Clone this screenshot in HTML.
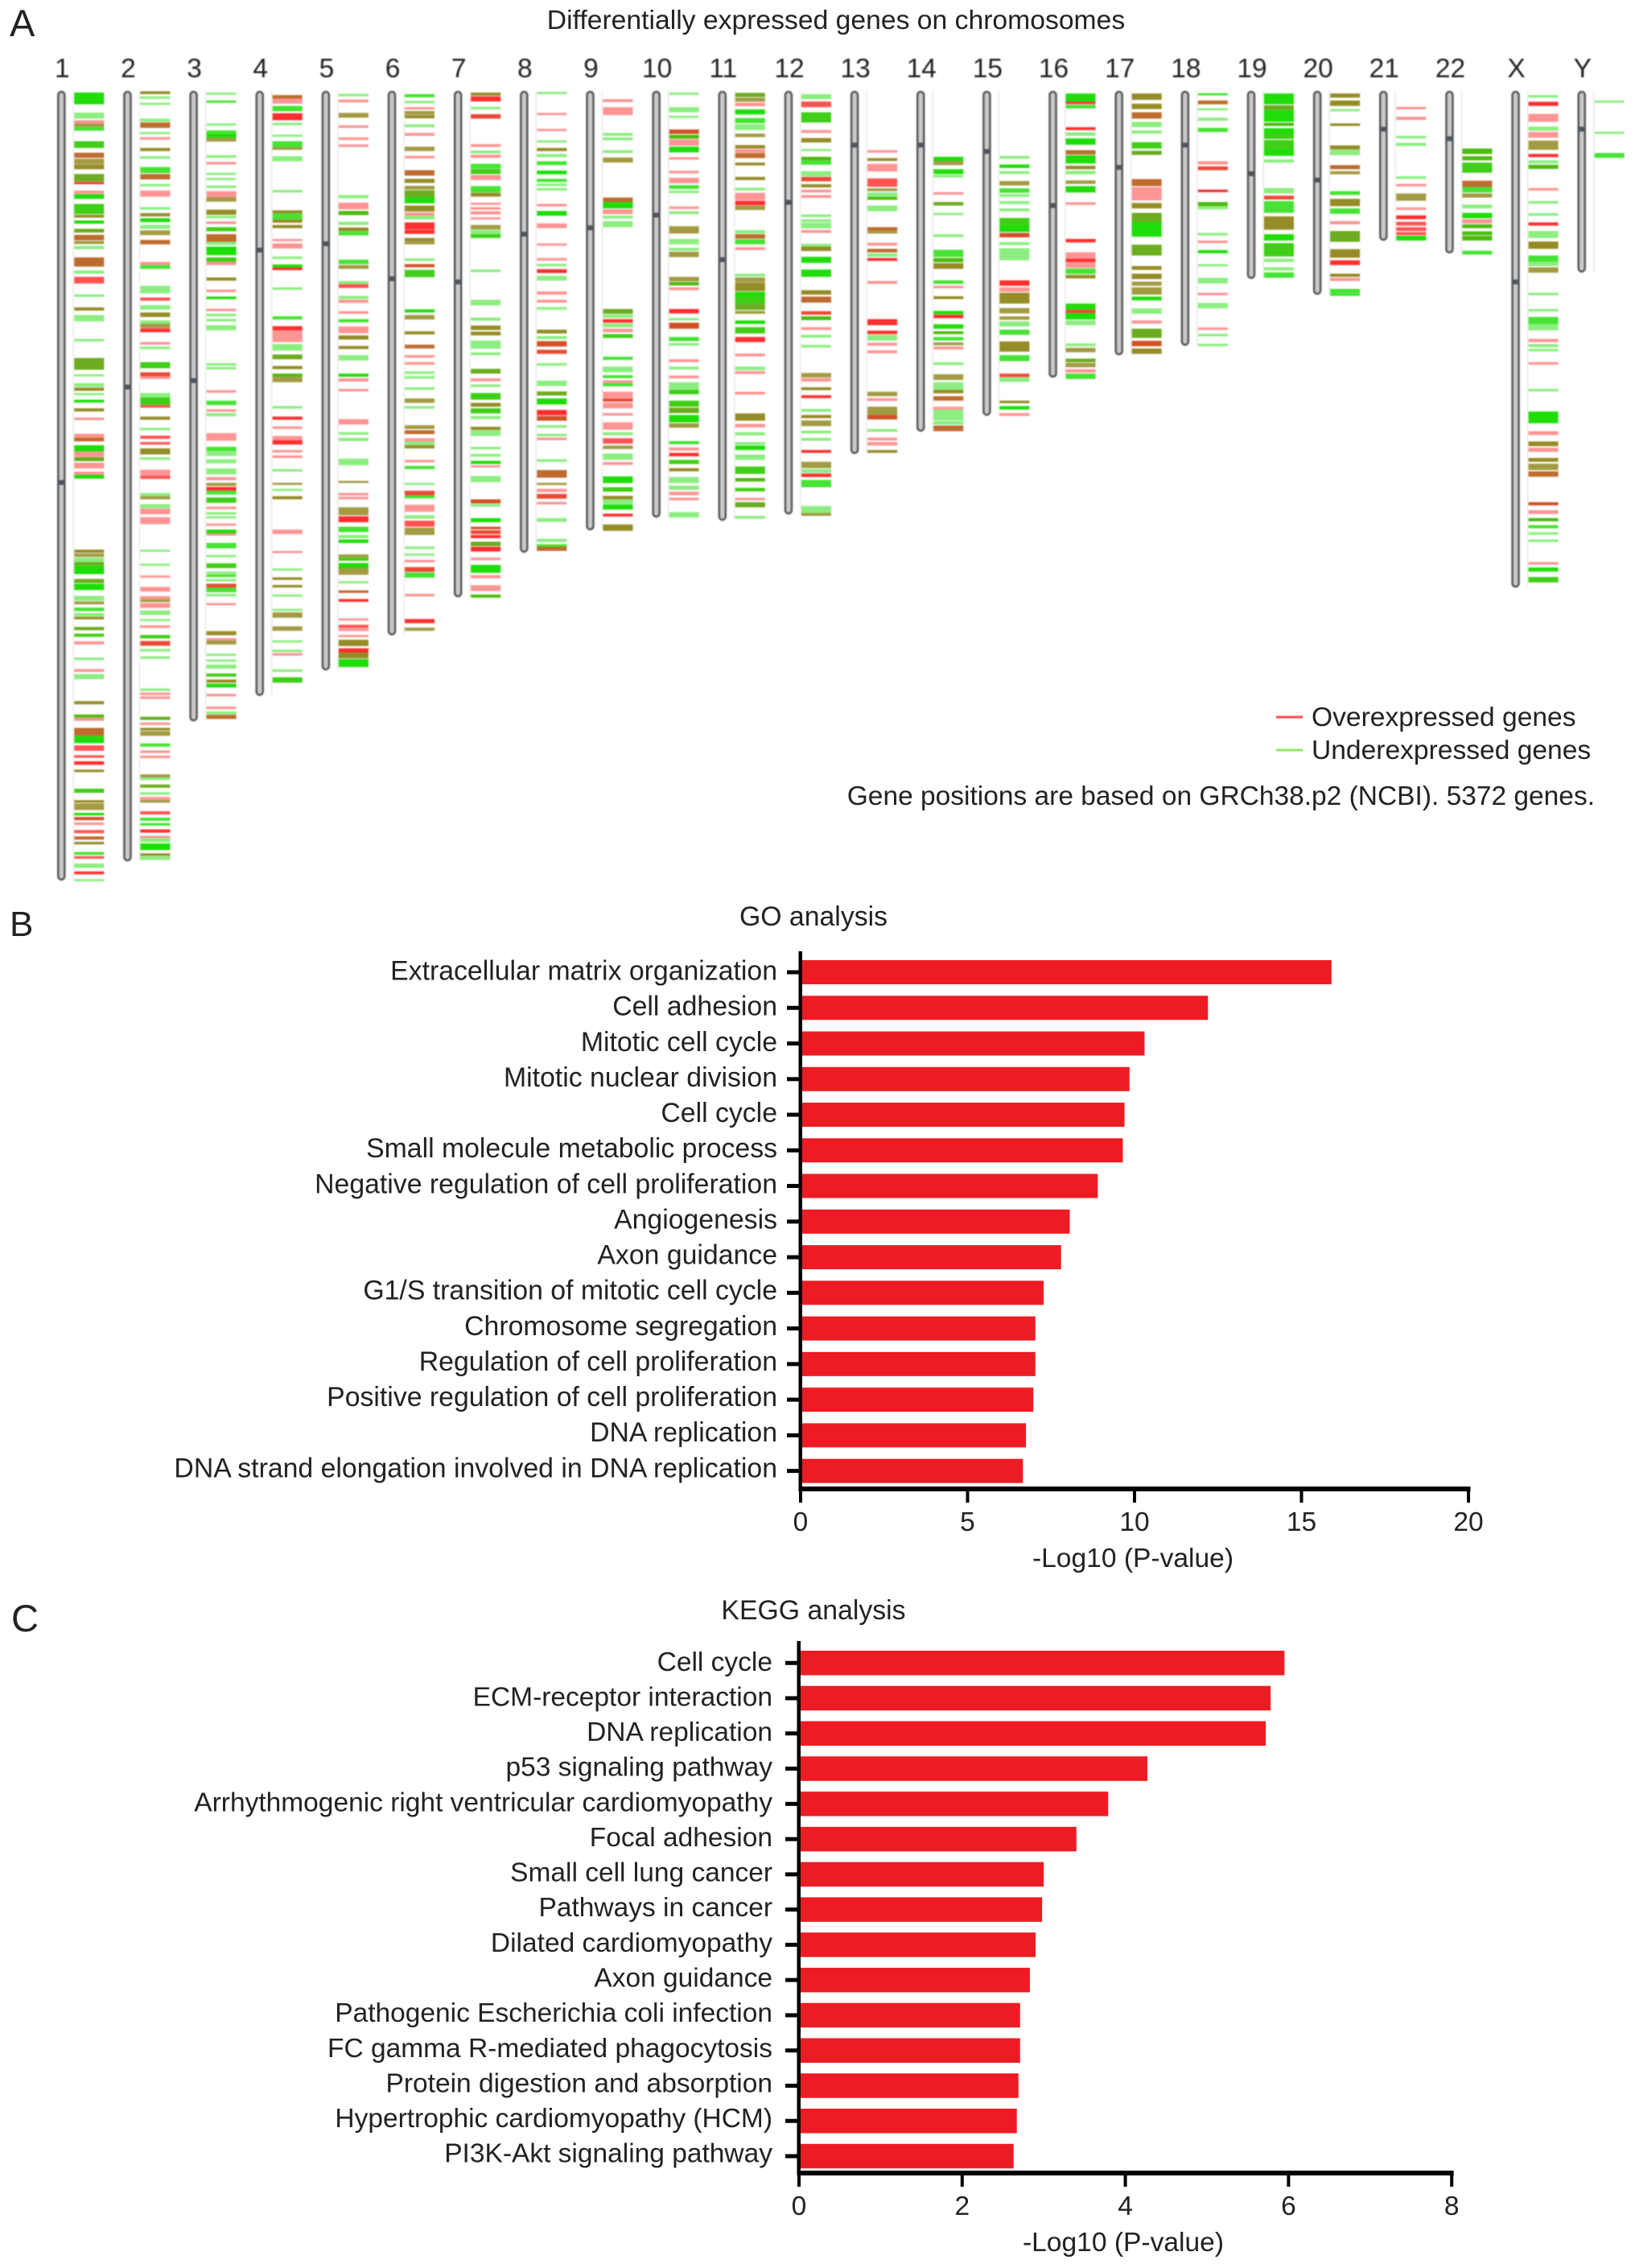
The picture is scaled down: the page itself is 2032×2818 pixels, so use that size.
<!DOCTYPE html>
<html lang="en">
<head>
<meta charset="utf-8">
<title>Differentially expressed genes, GO and KEGG analysis</title>
<style>
html,body{margin:0;padding:0;background:#fff;}
body{width:2032px;height:2818px;overflow:hidden;}
svg{display:block;font-family:"Liberation Sans",Arial,sans-serif;fill:#222;}
#ideogram{filter:blur(0.7px);}
</style>
</head>
<body>
<svg id="figure" xmlns="http://www.w3.org/2000/svg" width="2032" height="2818" viewBox="0 0 2032 2818">
  <rect x="0" y="0" width="2032" height="2818" fill="#ffffff"/>
  <text x="12" y="45" font-size="47">A</text>
  <text x="12" y="1163" font-size="44">B</text>
  <text x="14" y="2027" font-size="47">C</text>
  <text x="1039" y="36" font-size="33.7" text-anchor="middle">Differentially expressed genes on chromosomes</text>
  <g id="ideogram"></g>
  <line x1="1586" x2="1619" y1="891" y2="891" stroke="#ff4d4d" stroke-width="3"/>
  <text x="1630" y="902" font-size="33.6">Overexpressed genes</text>
  <line x1="1586" x2="1619" y1="932" y2="932" stroke="#8fe86a" stroke-width="3"/>
  <text x="1630" y="943" font-size="33.6">Underexpressed genes</text>
  <text x="1982" y="1000" font-size="33.5" text-anchor="end">Gene positions are based on GRCh38.p2 (NCBI). 5372 genes.</text>
  <text x="1011" y="1150" font-size="33.8" text-anchor="middle">GO analysis</text>
  <g id="go-chart"></g>
  <text x="1408" y="1947" font-size="33.6" text-anchor="middle">-Log10 (P-value)</text>
  <text x="1011" y="2012" font-size="33.8" text-anchor="middle">KEGG analysis</text>
  <g id="kegg-chart"></g>
  <text x="1396" y="2797" font-size="33.6" text-anchor="middle">-Log10 (P-value)</text>
</svg>
<script>
// Panels B and C
const goTerms = ["Extracellular matrix organization","Cell adhesion","Mitotic cell cycle","Mitotic nuclear division","Cell cycle","Small molecule metabolic process","Negative regulation of cell proliferation","Angiogenesis","Axon guidance","G1/S transition of mitotic cell cycle","Chromosome segregation","Regulation of cell proliferation","Positive regulation of cell proliferation","DNA replication","DNA strand elongation involved in DNA replication"];
const goValues = [15.9,12.2,10.3,9.85,9.7,9.65,8.9,8.06,7.8,7.28,7.03,7.03,6.97,6.75,6.66];
const goTicks = [0,5,10,15,20];
const keggTerms = ["Cell cycle","ECM-receptor interaction","DNA replication","p53 signaling pathway","Arrhythmogenic right ventricular cardiomyopathy","Focal adhesion","Small cell lung cancer","Pathways in cancer","Dilated cardiomyopathy","Axon guidance","Pathogenic Escherichia coli infection","FC gamma R-mediated phagocytosis","Protein digestion and absorption","Hypertrophic cardiomyopathy (HCM)","PI3K-Akt signaling pathway"];
const keggValues = [5.95,5.78,5.72,4.27,3.79,3.40,3.0,2.98,2.90,2.83,2.71,2.71,2.69,2.67,2.63];
const keggTicks = [0,2,4,6,8];

// Panel A: chromosome names, lengths and centromeres in Mb
const chrNames = ["1","2","3","4","5","6","7","8","9","10","11","12","13","14","15","16","17","18","19","20","21","22","X","Y"];
const chrLengths = [248,242,198,190,182,171,159,145,138,134,135,133,114,107,102,90,83,80,59,64,47,51,156,57];
const chrCentromeres = [123,93,91,50,48,59,60,45,43,39,53,35,17,17,19,36,24,17,26,28,12,15,60,12];
// Gene clusters per chromosome: [position Mb, extent Mb, over-expressed weight, under-expressed weight]
const chr1Genes = [[.5,3.7,0,3],[6.8,1.9,0,1],[9.2,1,1,0],[10.2,1.1,1,1],[11.3,1.2,0,2],[15.8,2.1,1,3],[19.4,1.6,3,2],[21.3,1.7,1,1],[23.1,1.5,2,2],[26.1,2.4,2,3],[28.6,.7,3,0],[31.3,1,1,0],[32.4,1.5,0,3],[35.5,3.2,1,3],[38.9,.9,2,2],[40.7,1,0,3],[43.3,1.2,2,3],[45.2,1.7,3,2],[47.1,1,1,1],[48.7,1,0,1],[52.3,2.9,3,2],[56.4,1,0,1],[58.4,2.1,2,0],[63.9,.8,0,1],[68,1,2,2],[70.4,2,0,1],[77.9,.8,0,1],[83.9,3.7,2,3],[89,.7,0,1],[91.8,1.2,0,1],[93.2,1,2,2],[94.9,.7,0,1],[97,.9,0,3],[99.7,1,2,2],[102.6,.8,1,0],[107.7,1.2,1,0],[108.9,1.2,3,2],[111.3,2,0,3],[113.3,1.6,1,0],[115,1.3,2,3],[116.8,1.8,1,0],[119.6,1,1,0],[120.6,1.2,0,3],[144.1,1,2,2],[145.3,1.1,1,1],[146.6,1.4,0,1],[148,1.1,2,3],[149.1,2.7,0,3],[153.3,1.3,2,3],[154.8,2,0,3],[158.6,1.6,0,1],[160.4,.9,1,1],[162.3,1.1,0,2],[164,1.1,0,1],[165.2,.8,2,2],[168.4,1,2,3],[170.5,1,1,3],[172.9,1,1,0],[178,.8,0,1],[181.6,.9,1,0],[183.2,1.6,0,1],[191.7,1,2,2],[195.9,1,1,2],[196.9,1,1,0],[200.1,2.5,3,2],[202.6,2.3,0,3],[205.6,1.7,2,0],[208.7,.8,2,0],[210.6,1.1,3,0],[213.2,.8,2,2],[219.2,1.3,1,3],[222.8,.8,2,2],[223.8,2.1,1,1],[226.8,.8,0,3],[228.1,1,2,1],[229.8,.8,1,0],[232.2,1,2,0],[234.2,1,3,2],[235.9,.8,2,2],[239.1,.9,0,2],[240.4,.8,2,0],[242.7,1.4,0,1],[245.2,.9,3,0],[247.6,.7,0,1]];
const chr2Genes = [[.1,.9,2,2],[1.7,.8,0,1],[3.7,.7,0,1],[8.7,1,0,1],[9.9,1.7,3,2],[12.9,.7,0,1],[14.5,.8,1,0],[17.9,1,2,2],[20.5,.8,0,1],[23.9,1.9,0,2],[26.1,1.7,3,2],[29.2,.8,0,1],[31.3,1.9,1,0],[36.5,.8,0,1],[38.4,1,2,2],[40,1.2,0,3],[42.1,1.2,0,1],[43.8,1.5,1,1],[46.8,1.4,3,2],[53.7,1,1,0],[54.7,1.2,0,2],[61.2,2.4,0,1],[64.9,1,2,0],[67.3,1.4,0,1],[69.6,1.4,2,2],[72.1,1,0,1],[73.1,1.4,1,1],[74.6,1.2,3,0],[78.9,.8,1,0],[80.3,.8,0,1],[85.2,1.9,1,3],[88.4,1.3,3,1],[89.7,.8,1,0],[94.9,1.4,0,1],[96.3,2.4,1,3],[98.7,.8,2,0],[102.3,1,2,2],[105.8,.8,0,1],[108.3,1,2,0],[110.3,.8,2,0],[112.3,1.9,2,2],[115.1,.8,0,1],[119,1.9,1,0],[120.9,1,2,0],[126.3,1,0,1],[127.3,1,1,1],[129.8,1.3,0,1],[131.2,1.8,1,0],[133.9,2.2,1,0],[144.1,.7,0,1],[148.5,.7,0,1],[152.2,.7,1,0],[155.8,1.5,1,0],[158.7,1,1,0],[159.7,.9,1,1],[160.9,1.5,1,0],[163.2,1.4,0,1],[165.9,.7,0,1],[167.9,.8,1,0],[170.9,1.1,1,3],[172.8,1.5,3,1],[175.3,.8,0,1],[177.6,.8,0,1],[187.7,.8,0,1],[189,.8,1,0],[190.2,.8,1,0],[196.6,1,2,3],[198.4,.8,1,0],[200.1,.8,2,2],[201.1,1.5,1,1],[205,1,0,2],[207.2,.8,1,0],[208.8,.8,1,0],[214.7,1,1,1],[215.7,.8,0,1],[217.9,1,2,3],[220.3,.8,0,1],[221.8,1,1,0],[222.8,.8,1,1],[226.3,1,2,0],[228.3,1,0,2],[230,.8,0,2],[232,1,3,0],[234,.7,1,0],[234.7,1.3,0,1],[236.4,2.1,0,3],[239.5,.8,2,2],[240.4,1.2,0,1]];
const chr3Genes = [[.5,.7,0,1],[3,.7,0,2],[10.2,.7,0,1],[12.4,1.2,0,2],[13.5,1.2,0,3],[14.7,1.2,1,1],[20.2,.8,0,1],[22.3,.8,1,0],[25.7,.7,0,1],[27.3,.7,0,1],[29.7,.8,0,1],[31.5,1.9,1,0],[33.4,1.4,1,1],[37.3,1.6,2,2],[39.2,.8,0,1],[41,.8,1,0],[42.8,1.3,1,3],[45,2.4,3,2],[47.4,1,0,1],[48.9,2.7,0,3],[52.3,1.4,1,3],[53.7,1,1,0],[58.6,1,2,2],[62.4,.8,1,0],[64.6,.8,0,3],[68.4,.8,1,0],[70,.8,0,1],[71.6,.8,0,1],[73.6,1.6,0,1],[85.5,.8,0,1],[86.7,.8,0,1],[94,.8,1,0],[97.3,1.4,0,2],[100,.8,1,0],[101.2,1,0,1],[107.5,2.4,1,0],[111.8,1.4,0,2],[113.3,1.4,0,1],[115.7,1.3,0,1],[118.6,1.9,0,1],[121.3,1,1,0],[123.1,1,1,1],[124.4,1.2,3,0],[125.6,1.2,0,2],[127.7,1.7,1,3],[130.6,.8,1,0],[132.3,.8,0,1],[133.6,.7,0,1],[135.9,.7,1,0],[137.8,1.3,0,3],[139,.7,1,0],[142,1.7,0,2],[145.8,.7,0,1],[148.4,1.5,1,3],[151,.8,0,1],[151.9,.8,0,2],[153.3,.8,0,1],[154.8,1.2,3,1],[156,1.5,0,2],[158,.8,0,1],[160.9,.7,1,0],[169.7,1.3,2,2],[171.9,.7,1,0],[172.6,1.3,1,1],[176.8,.7,0,1],[178.6,.7,0,1],[180.2,1.3,0,1],[183,1,1,3],[184.9,1,2,2],[186.2,1.2,0,3],[189.4,.8,1,0],[193.4,.8,1,0],[194.9,1,0,1],[196,1.3,3,2]];
const chr4Genes = [[1.3,1.2,3,2],[2.4,1.6,1,0],[4.7,1.7,0,2],[7,2.2,3,0],[10,.8,0,1],[13.7,.7,0,1],[15.8,1.9,0,2],[17.7,.8,1,1],[20.5,1.6,0,1],[31.1,.8,0,1],[37.5,1,2,2],[38.5,1.9,0,2],[40.4,1,2,2],[42.1,1,2,2],[46.5,.7,1,0],[47.9,1.6,1,0],[52,.8,0,1],[54.5,1,0,3],[55.5,.8,3,0],[61.7,.8,0,1],[70.8,1,0,2],[73.9,1.4,3,0],[75.2,3.7,1,0],[79.5,2.1,0,1],[82.8,1.5,2,3],[86.4,1,2,2],[88.8,1,1,2],[89.8,1.7,1,1],[99,.8,0,1],[102.3,1,3,0],[105.4,.8,1,0],[108.4,1.3,1,0],[109.7,1.4,3,0],[112.8,.8,1,0],[114.5,.8,1,0],[118.8,.8,0,1],[123.1,.6,1,1],[125,.7,0,1],[127.3,1,2,2],[137.8,1.4,1,0],[144.5,.7,1,0],[150,.7,0,1],[152.8,.8,2,2],[155.2,.8,2,2],[158.2,.7,0,1],[162.7,.7,0,1],[163.8,1.7,1,1],[168.2,1.4,1,1],[172.6,.7,0,1],[175.5,.8,0,1],[176.6,.8,1,0],[181.7,.8,0,1],[184.2,1.7,1,3]];
const chr5Genes = [[.9,.8,0,1],[2.7,.9,1,0],[6.9,1.5,1,1],[10.8,.8,1,0],[14.6,.8,1,0],[16.8,.8,1,0],[32.7,1,0,1],[35.1,2.1,1,0],[37.7,1.3,1,2],[41.1,1,0,1],[42.9,1.2,2,2],[44.2,1.2,0,2],[53,1.4,0,2],[54.7,1.2,1,1],[59.7,1,0,1],[60.7,1.2,2,0],[64.4,1,0,1],[65.6,1,1,0],[69.2,.8,1,0],[71.7,1,0,2],[74,2.1,1,0],[76.8,1.3,2,2],[80.1,1,2,2],[83,1.7,0,1],[88.8,1,0,3],[90.3,1,1,0],[93.6,.8,1,0],[103.1,1.7,1,0],[107.2,.8,0,1],[109,1,0,1],[115.5,2.1,0,1],[122.5,.6,1,1],[126.3,.8,1,0],[127.5,.8,1,0],[130.8,2.5,1,1],[133.6,1.9,3,0],[136.9,1.7,0,2],[139.5,1,0,1],[140.9,1.1,0,3],[145.6,1,1,1],[146.6,1,1,3],[148.3,1.7,0,3],[149.9,2.1,1,1],[154,.7,0,1],[156.9,.8,3,2],[159.6,.9,3,0],[165.7,.7,1,0],[167.7,1,2,0],[168.8,.9,1,0],[170.9,.7,1,0],[172.4,2,2,2],[175.1,2.5,3,0],[176.4,1.9,3,3],[178.5,2.5,0,3]];
const chr6Genes = [[1,1,0,2],[3.1,.8,0,1],[5.1,.7,1,0],[6.3,1.2,1,1],[7.6,1,2,2],[10.5,.9,0,1],[13.2,.9,1,0],[17.5,1.4,1,1],[20.4,.8,1,0],[24.9,1.7,3,2],[27.6,1.3,2,2],[29.8,1.2,1,1],[31.2,2.2,2,3],[33.4,1.9,0,3],[36,1.9,2,2],[38.2,1,1,0],[39.2,1.2,0,1],[41.3,2.2,3,0],[43.6,1.3,3,0],[46.2,1,2,2],[47.2,1,1,1],[52.6,.8,0,1],[54.4,1,2,1],[56.2,2.3,1,3],[68.6,1,0,3],[70.4,1.4,1,1],[75.5,1,2,2],[79.7,1.2,3,2],[83,.8,1,0],[85.2,.8,1,0],[88.1,.8,0,1],[89.6,.8,0,1],[93.1,.8,0,1],[96.6,1.4,1,1],[99,.8,0,1],[105,1.2,1,1],[106.6,1.2,3,2],[109.1,1,1,0],[110.1,1.2,0,1],[111.3,1,2,2],[115.9,.8,1,0],[117.8,1,0,2],[123.1,.5,0,1],[125.6,1.5,3,1],[127.1,.9,0,2],[130,2.2,1,0],[133.3,1.1,0,1],[135,1.9,2,0],[137.2,2.3,1,1],[143.1,.8,0,1],[145.3,.7,0,1],[147.3,.8,1,0],[149.6,1.5,3,1],[151.3,1.6,0,2],[158,.8,1,0],[165.9,1.3,3,0],[168.6,1,1,1]];
const chr7Genes = [[.5,1,2,2],[1.7,1.6,3,0],[5,.8,0,1],[7.3,1.4,3,1],[16.7,.9,1,0],[18.7,.9,0,1],[20,1,1,0],[22.9,1.5,0,2],[24.5,1.6,1,3],[26.4,1.6,1,0],[29.9,2,0,2],[32,1.2,2,2],[35.1,.7,1,0],[36.5,.8,1,0],[37.8,1,1,0],[39.7,.7,1,0],[42.1,1.4,1,1],[43.6,1.5,0,1],[45,1.2,1,3],[56.1,.8,0,1],[65.6,1.8,0,1],[71.2,1,0,1],[73.7,1.4,2,2],[75.6,1.2,2,2],[78.4,2.6,0,1],[82.1,.9,0,1],[87.3,1.5,2,3],[90.3,.9,1,0],[92.2,.8,0,1],[94.9,2.1,1,3],[98,1.2,2,2],[99.7,1.6,1,3],[102.1,1,0,1],[105.5,1,2,2],[106.6,1.8,0,1],[111.8,.8,0,1],[114,.9,0,1],[116.2,1,0,3],[117.6,.6,1,0],[121,1.9,0,1],[128.3,1.3,2,1],[129.8,.8,0,1],[134.2,1.3,0,3],[136.9,.8,2,1],[138,1.2,3,1],[139.5,1,3,0],[141.6,1.4,2,3],[143.2,1.5,3,0],[146.6,.8,1,0],[148.9,2.5,0,3],[152.1,1,1,0],[155.3,1.8,1,0],[158.2,1,1,2]];
const chr8Genes = [[.3,.7,0,1],[6.9,.7,1,0],[11.9,.7,1,0],[15.5,.7,0,1],[17.9,1,2,2],[19.8,1,0,1],[22.1,1.2,0,2],[25,1.2,0,3],[27.6,1,0,2],[29.1,.8,0,1],[30.5,.8,0,1],[35.5,.8,1,0],[37.7,1.5,0,3],[41.6,1.5,1,0],[47.9,.7,1,0],[52.5,.8,1,0],[54.3,.8,0,1],[56,1.2,3,0],[58.1,1.5,0,1],[63,1,1,0],[65.6,.9,1,0],[67.9,.8,0,1],[75,1.2,2,2],[77,1,0,1],[78.6,1.7,2,1],[81.3,1.3,3,1],[85.5,.8,0,1],[91,1.7,0,1],[94.4,1.3,2,3],[96.6,1.9,0,3],[100.2,1.7,3,0],[102.1,1.5,2,1],[105,.8,0,1],[107.7,.8,0,1],[108.9,.8,1,0],[115.7,.8,0,1],[119.1,2.4,3,2],[123.1,.7,1,1],[125,1,1,0],[126.6,1.5,3,1],[129.1,.8,1,0],[134.2,1.2,0,1],[140.7,1,0,1],[142.4,1,0,2],[143.2,1.3,3,2]];
const chr9Genes = [[2.6,.9,1,0],[5.1,2.5,1,0],[13.2,.9,0,1],[14.6,.9,0,1],[18.6,.9,0,1],[20.9,1.6,1,1],[33.5,1.4,3,2],[34.9,2,0,3],[37.2,1.5,1,0],[39.2,.9,0,1],[40.9,1.9,0,1],[68.5,1.5,2,3],[70.2,1.1,0,1],[71.7,1.1,3,0],[73,1.3,0,1],[74.7,1.1,1,0],[76.4,1.2,1,3],[83.5,1,0,2],[86.6,1.8,0,1],[89.3,.9,0,2],[90.9,.9,1,0],[91.8,1,0,2],[94.5,2.3,1,0],[96.7,.9,3,1],[97.9,1.8,1,0],[101.2,.8,1,0],[104.1,2.3,1,0],[107.2,1,0,1],[109.1,1.7,2,0],[111.4,1.1,1,1],[113.9,2,0,1],[116.6,.9,1,0],[121.1,2.1,0,3],[124.5,1.4,1,3],[127.2,1.1,2,2],[128.3,1.5,0,1],[129.9,1.6,0,3],[132.8,.9,3,0],[136.2,2,2,2]];
const chr10Genes = [[.5,.7,0,1],[5.1,1.6,0,1],[7.8,.7,0,1],[12.1,1.4,2,1],[13.8,1.2,1,2],[15.2,2,1,0],[17.5,1.8,0,3],[20.8,.8,1,0],[25.1,.8,1,0],[27.3,1.7,1,0],[29.6,1.2,0,2],[31.3,.8,0,1],[36.3,.8,1,0],[37.8,.9,0,1],[42.5,2.3,1,1],[46.5,1.7,0,1],[49.3,.9,0,1],[50.5,1.7,1,1],[58.4,1.4,1,1],[60,1.1,1,2],[61.7,.9,1,0],[68.5,1.4,3,0],[71.3,.8,0,1],[72.8,1.9,2,1],[77.3,1.3,0,2],[79.2,.8,0,1],[84.3,.9,1,0],[86.6,.9,0,1],[89.4,.9,1,0],[91.5,2.4,0,1],[93.9,1.4,1,3],[97.3,1.9,1,3],[99.5,1.7,2,3],[101.8,2.3,0,3],[104.4,1.4,1,1],[110,1,0,2],[112,1,1,0],[113.7,1.1,3,0],[115.9,1.3,1,3],[118.5,1,2,2],[121.3,1.9,0,1],[124,1.3,0,1],[125.9,1.1,1,0],[127.8,.8,1,0],[132.3,1.7,0,1]];
const chr11Genes = [[.6,1.3,2,3],[2.1,1.3,1,1],[3.7,1.1,1,0],[5.8,1.6,0,3],[8.5,1.6,0,2],[10.4,1.9,0,1],[13.4,1.1,1,1],[17,1.1,2,2],[18.3,1.1,1,0],[19.5,1.6,3,2],[22.5,.9,2,2],[27,1,2,2],[30.4,.9,0,1],[32,2.3,1,0],[34.5,1.4,3,0],[36,1.4,1,1],[43.7,1.1,0,1],[45,1.4,3,2],[46.6,1.6,0,2],[49.1,.9,1,0],[57.4,.9,0,1],[58.6,1.5,1,1],[60.2,2.7,2,2],[63.1,1.5,0,3],[64.6,2.3,1,3],[66.9,1.9,2,3],[69.1,.9,1,1],[72.1,1.1,0,3],[74.2,2,1,3],[77.3,1.6,3,0],[82.5,.9,1,0],[86.6,1.1,0,1],[88,.9,1,0],[94.5,.9,1,0],[101.3,2.3,2,2],[104.6,1.1,1,0],[107.2,1,0,1],[110.3,.9,0,1],[111.4,1.4,0,3],[114.2,1.7,0,1],[118,2.3,1,3],[121.6,1.1,1,2],[124.7,1.1,1,3],[127.8,.8,1,0],[129.2,1.6,2,3],[133.5,.9,0,1]];
const chr12Genes = [[1,1.6,0,1],[3.3,1.8,2,0],[6.7,3.2,1,3],[12.3,.9,1,0],[14.8,1.4,2,2],[18.2,.7,0,1],[20.7,1.1,1,2],[21.8,1.4,0,2],[25.2,1.6,0,1],[27,1.4,3,1],[29.3,1,2,2],[31,.9,1,0],[32.7,.9,1,0],[38.8,.8,0,1],[40.3,.9,0,1],[41.4,1.8,0,1],[43.7,.9,1,0],[48,1.1,0,1],[48.9,1.4,2,2],[52.1,1.9,0,3],[56.1,2.3,0,3],[62.6,1.4,2,2],[64.6,1.9,3,2],[69.2,1.1,3,1],[70.8,1.2,1,2],[74.2,.9,1,0],[76.6,.9,0,1],[79.8,.8,0,1],[88.6,1.4,1,1],[90.2,1.1,1,0],[93.1,.9,2,2],[95.6,.9,3,0],[99.9,.9,0,1],[101.8,1,2,2],[103.5,1.8,1,1],[106.7,.9,0,1],[109,.9,0,1],[112.8,.9,3,0],[116.5,2,1,1],[118.8,1.2,0,1],[120.2,1.1,3,0],[122.2,2.3,0,2],[130.4,2.3,0,1],[132.6,.9,1,1]];
const chr13Genes = [[18.6,.8,1,0],[21.1,.9,2,2],[22.9,2.4,1,0],[27.5,2.6,2,0],[30.6,.9,1,1],[31.9,1.4,0,1],[33.3,.9,1,2],[36,1.8,0,1],[42.8,1.1,3,2],[43.9,.9,1,1],[47.7,.9,1,0],[49.6,1.1,3,2],[51,1.1,0,1],[52.5,.9,3,0],[59.7,.9,1,0],[71.7,1.9,3,0],[75.3,1.1,3,0],[76.6,1.8,0,1],[79.1,.9,1,0],[81.5,.9,1,0],[94.5,1.4,1,1],[96.5,.9,1,0],[99.2,2.6,1,1],[101.8,1.4,2,1],[106.2,.9,0,1],[108.9,.9,1,0],[110.3,1.1,1,0],[112.8,.9,2,2]];
const chr14Genes = [[20.7,1.4,0,3],[22,1.3,1,1],[24.6,1.5,0,3],[26.3,.9,0,1],[31.8,.8,1,0],[34.9,1.1,2,3],[38.3,.7,0,1],[45,.9,0,1],[49.9,2.3,0,2],[52.5,1.3,1,2],[54.1,1.8,2,2],[59.5,1.1,0,2],[61.2,.8,1,0],[64.5,.9,2,2],[69.1,1.1,0,3],[70.3,1.1,3,0],[73.3,1.4,0,3],[75.5,.9,1,2],[77.3,1.1,0,2],[79,.9,1,1],[80.3,.9,1,0],[85.2,.9,0,1],[89,1.8,1,1],[91.5,2.4,0,1],[93.9,1.1,2,2],[95.9,1.4,3,2],[99.2,.9,1,0],[100.1,3.4,0,1],[103.7,1.1,0,1],[105.1,1.8,3,2]];
const chr15Genes = [[20.4,.9,0,1],[23.1,1.1,0,3],[25.2,.9,0,1],[28.3,1.4,1,1],[30.6,1.4,0,2],[32.4,.9,0,1],[34.6,.9,0,1],[36.9,.9,0,1],[39.9,2.1,1,3],[42,2.3,0,3],[44.6,1.4,2,1],[47.5,.9,0,1],[49.4,3.8,0,1],[59.5,1.7,3,0],[61.7,1.4,1,0],[63.4,3.4,3,3],[68.2,1.7,1,1],[70.8,1.1,1,1],[72.4,1.6,0,1],[75,1.6,0,2],[78.7,3.2,3,3],[83,1.9,0,2],[88.8,1.1,3,1],[90,1.4,0,1],[97.3,.8,2,2],[99,1.1,0,3],[101.2,.9,1,0]];
const chr16Genes = [[.8,2.8,0,3],[3.3,.9,3,1],[4.4,1.1,0,2],[11.4,.9,3,0],[13,1.1,0,1],[14.9,2,0,3],[18.6,1.4,3,2],[20.2,2.6,0,3],[23.5,1.1,2,2],[25.1,1.1,0,1],[28.1,1.1,1,1],[29.9,2,0,3],[35,.8,1,0],[46.5,1.1,3,0],[50.7,2,1,0],[52.7,1.1,3,0],[53.9,1.7,1,0],[55.8,1.7,0,2],[57.8,1.1,2,2],[66.8,1.9,0,3],[68.7,1.1,3,1],[69.8,2,0,3],[72.1,1.5,0,1],[79.3,.9,0,1],[80.7,1.4,1,1],[84.1,1.1,2,3],[85.4,1.4,1,1],[87.4,1.1,1,0],[88.8,1.7,0,2]];
const chr17Genes = [[.8,2,2,2],[4,1.7,2,2],[6.7,2,3,2],[9.7,1.7,0,1],[12.4,1,0,1],[16.1,2,1,3],[18.8,1.3,2,3],[27.7,2.2,3,2],[30.2,4.2,1,0],[35.2,1.7,2,2],[38.3,2.9,2,3],[41.1,4.7,0,3],[48.3,3.4,2,3],[55,1.2,2,2],[57.4,1.7,2,2],[59.9,1.3,1,1],[61.7,2.3,1,1],[64.6,1.2,0,3],[68.3,1.7,0,1],[72.1,1,1,0],[74.7,2.9,2,3],[78.5,1.7,2,1],[80.9,1.7,2,2]];
const chr18Genes = [[.7,.7,0,2],[3,1.2,3,2],[5.4,.7,0,1],[8.4,1,0,1],[11.6,1.3,0,2],[22.1,1,1,0],[23.7,1.2,3,1],[31,.8,3,0],[34.9,1.3,1,2],[36.2,1,0,1],[44.6,.8,0,1],[47,.8,1,0],[50,1,0,3],[54.4,.7,0,1],[58.7,1.8,0,1],[63.4,.8,1,0],[66.6,1.7,0,1],[74.3,.8,1,0],[76.3,.8,0,1],[79.4,.8,0,1]];
const chr19Genes = [[.8,3.4,0,3],[4.5,1.5,2,3],[6,3.7,0,3],[10,1,1,2],[11.7,1.7,0,3],[13.4,1.7,1,3],[15.4,2.7,1,3],[18.1,2.3,0,3],[21.5,1,0,1],[30.5,1.7,0,1],[32.9,1.2,3,1],[34.6,3.7,0,2],[39.4,4.2,2,2],[45,2,0,3],[47.8,4.2,1,3],[52.7,1,0,1],[55.4,1,0,1],[57,1.7,0,2]];
const chr20Genes = [[.8,1.3,2,2],[3,1.7,2,2],[5.7,.7,0,1],[10.2,.8,2,2],[17.1,1.3,2,2],[18.5,1.7,0,1],[23.3,1.3,3,2],[25.2,1,1,1],[31.5,1.2,0,2],[33.9,2.3,2,2],[36.9,1.7,0,2],[40.9,1,1,0],[44,3.4,2,3],[49.7,2.7,2,2],[53.2,1.5,3,0],[57.4,1,2,2],[58.7,1,1,0],[62.2,1.2,0,2],[63.4,1,0,2]];
const chr21Genes = [[5,.8,1,0],[8.1,1,1,0],[14.1,.8,0,1],[16.3,1,0,1],[26.8,.8,0,1],[29.2,.8,1,0],[32.2,2.3,1,1],[36.6,.8,1,0],[39.1,1.2,3,0],[41.1,1.2,2,0],[42.8,1.2,2,0],[44.3,1,2,0],[45.5,1.5,0,3]];
const chr22Genes = [[18.1,1.7,1,2],[20.5,1.3,1,2],[22.5,3.2,1,3],[28.2,2,3,2],[30.2,1.7,0,2],[32.2,1.3,1,1],[35.7,1.2,0,1],[38.3,1.7,0,3],[40.3,1.3,1,0],[41.9,1.2,1,2],[44.1,1.2,1,2],[45.5,1.5,1,2],[50.2,1.2,0,2]];
const chrXGenes = [[1.3,.8,0,1],[3.4,1.3,3,0],[7.2,2.5,1,0],[11.2,1.3,0,1],[12.9,1.8,1,0],[15.6,2.9,1,1],[19.8,1,3,0],[21.8,1,0,1],[23.2,1.3,1,2],[30.5,.8,1,0],[34.6,.8,0,1],[38.4,.8,0,1],[41.3,1,3,0],[44,2.2,0,1],[47.3,2.3,2,2],[51.7,2,0,2],[53.7,1.3,0,1],[55.4,1.7,1,1],[63.4,.8,0,1],[68.5,.8,0,1],[71,2.2,0,2],[73.2,2,0,1],[77.9,1,1,0],[79.5,1,0,1],[81,.8,0,1],[85.2,.8,1,0],[93.6,.8,0,1],[100.7,3.7,0,3],[106.9,1.2,1,0],[110.1,1.5,2,2],[112.1,1.3,1,0],[115.3,1.2,2,2],[117.1,2,1,1],[119.5,1.7,3,2],[129.2,1,2,1],[131.7,1.2,1,0],[134.2,1,1,2],[136.4,1,0,2],[138.6,.8,0,1],[140.9,.8,0,1],[148,.8,1,0],[149.7,1.3,0,3],[152.7,1.7,1,3]];
const chrYGenes = [[3,.7,0,1],[12.8,.7,0,1],[19.5,1.5,0,2]];
const chrGenes = [chr1Genes,chr2Genes,chr3Genes,chr4Genes,chr5Genes,chr6Genes,chr7Genes,chr8Genes,chr9Genes,chr10Genes,chr11Genes,chr12Genes,chr13Genes,chr14Genes,chr15Genes,chr16Genes,chr17Genes,chr18Genes,chr19Genes,chr20Genes,chr21Genes,chr22Genes,chrXGenes,chrYGenes];

const NS = "http://www.w3.org/2000/svg";
function make(tag, attrs, parent, text) {
  const el = document.createElementNS(NS, tag);
  Object.keys(attrs).forEach(function (k) { el.setAttribute(k, attrs[k]); });
  if (text !== undefined) el.textContent = text;
  parent.appendChild(el);
  return el;
}

// Ideogram axis functions
const PX_PER_MB = 3.955;
const IDEO_TOP = 113;
function chrX(i) { return 76.3 + 82.15 * i; }
function mbY(mb) { return IDEO_TOP + mb * PX_PER_MB; }
const strength = [0, .5, .8, .97, .92];
function geneColor(over, under) {
  const total = over + under;
  const s = strength[Math.min(total, 4)];
  const w = over * over / (over * over + under * under);
  const cr = w * 255 + (1 - w) * 24;
  const cg = w * 40 + (1 - w) * 220;
  const cb = w * 40;
  const mix = function (c) { return Math.round(c * s + 255 * (1 - s)); };
  return "rgb(" + mix(cr) + "," + mix(cg) + "," + mix(cb) + ")";
}

const ideogram = document.getElementById("ideogram");
chrNames.forEach(function (name, i) {
  const cx = chrX(i);
  const label = make("text", { x: cx + 1, y: 96, "font-size": 33.5, "text-anchor": "middle" }, ideogram, name);
  
  
  const geneLeft = cx + 16;
  const guide = make("rect", { x: geneLeft - 2, y: IDEO_TOP, width: 2, height: chrLengths[i] * PX_PER_MB, fill: "#eeeeee" }, ideogram);
  
  
  const rod = make("rect", { x: cx - 4, y: IDEO_TOP + 1, width: 8, height: chrLengths[i] * PX_PER_MB - 2, rx: 4, ry: 4, fill: "#c9c9c9", stroke: "#5c5c5c", "stroke-width": 2.6 }, ideogram);
  
  
  const cen = make("rect", { x: cx - 3.5, y: mbY(chrCentromeres[i]) - 3, width: 7, height: 6, fill: "#4d5560" }, ideogram);
  
  
  chrGenes[i].forEach(function (g) {
    const band = make("rect", { x: geneLeft, y: mbY(g[0]), width: 37, height: Math.max(g[1] * PX_PER_MB, 2.6), fill: geneColor(g[2], g[3]) }, ideogram);
    
    
  });
});

// Horizontal bar chart drawing
function drawBars(opts) {
  const g = document.getElementById(opts.id);
  const xScale = function (v) { return opts.x0 + v * opts.pxPerUnit; };
  const yScale = function (i) { return opts.firstBarY + i * opts.step; };
  opts.values.forEach(function (v, i) {
    const bar = make("rect", { x: opts.x0, y: yScale(i), width: xScale(v) - opts.x0, height: opts.barH, fill: "#ed1c24" }, g);
    
    
    const cy = yScale(i) + opts.barH / 2;
    const tick = make("rect", { x: opts.x0 - 17, y: cy - 2.5, width: 17, height: 5, fill: "#000" }, g);
    
    
    const label = make("text", { x: opts.labelRight, y: cy + 9.5 - i * .13, "font-size": opts.fontSize, "text-anchor": "end" }, g, opts.terms[i]);
    
    
  });
  const yAxis = make("rect", { x: opts.x0 - 2.5, y: opts.axisTop, width: 4.5, height: opts.axisY + 3 - opts.axisTop, fill: "#000" }, g);
  
  
  const last = opts.ticks[opts.ticks.length - 1];
  const xAxis = make("rect", { x: opts.x0 - 2.5, y: opts.axisY - 3, width: xScale(last) - opts.x0 + 5, height: 6, fill: "#000" }, g);
  
  
  opts.ticks.forEach(function (t) {
    const tx = xScale(t);
    const tick = make("rect", { x: tx - 2, y: opts.axisY, width: 4, height: 17, fill: "#000" }, g);
    
    
    const label = make("text", { x: tx, y: opts.axisY + 52, "font-size": 33.5, "text-anchor": "middle" }, g, String(t));
    
    
  });
}

drawBars({ id: "go-chart", key: "go", terms: goTerms, values: goValues, ticks: goTicks, x0: 995, pxPerUnit: 41.5, firstBarY: 1193, step: 44.26, barH: 30, axisY: 1850, axisTop: 1182, labelRight: 966, fontSize: 33.8 });
drawBars({ id: "kegg-chart", key: "kegg", terms: keggTerms, values: keggValues, ticks: keggTicks, x0: 993, pxPerUnit: 101.4, firstBarY: 2051, step: 43.77, barH: 30.5, axisY: 2700, axisTop: 2039, labelRight: 960, fontSize: 33.5 });
</script>
</body>
</html>
